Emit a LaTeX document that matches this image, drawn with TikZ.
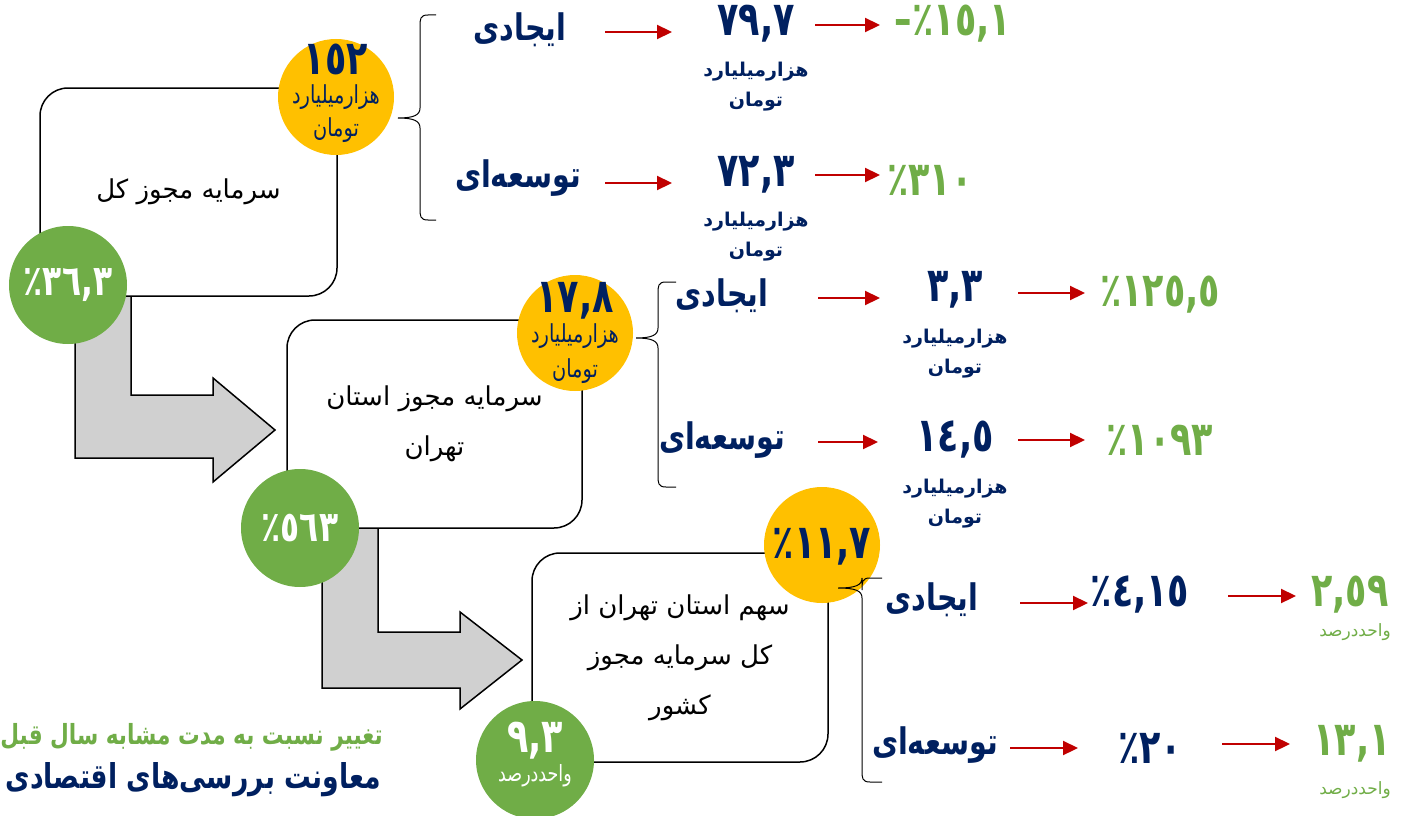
\documentclass[tikz,border=0pt]{standalone}
\usepackage{graphicx}
\usepackage{fontspec}
\setmainfont{DejaVu Sans}
\newfontfamily\arfont[Script=Arabic]{DejaVu Sans}
\newfontfamily\numfont{DejaVu Sans}
\TeXXeTstate=1
\usetikzlibrary{arrows.meta}
\definecolor{navy}{HTML}{002060}
\definecolor{lgreen}{HTML}{70AD47}
\definecolor{gold}{HTML}{FFC000}
\definecolor{darkred}{HTML}{C00000}
\definecolor{arrgray}{HTML}{D0D0D0}
\newcommand\fa[1]{{\arfont\beginR#1\endR}}
\newcommand\tfa[1]{\scalebox{0.92}[1.18]{\arfont\beginR#1\endR}}
\newcommand\tn[1]{\scalebox{0.92}[1.25]{#1}}
\newcommand\mybrace[6]{% xend, xvert, xtip, ytop, ybot, ytip
  \draw[line width=1pt] (#1,#4) -- ({#2+8},#4) .. controls (#2,#4) and (#2,{#4+4}) .. (#2,{#4+12})
    -- (#2,{#6-10}) .. controls (#2,{#6-3}) and ({#2-6},#6) .. (#3,#6)
    .. controls ({#2-6},#6) and (#2,{#6+3}) .. (#2,{#6+10})
    -- (#2,{#5-12}) .. controls (#2,{#5-4}) and (#2,#5) .. ({#2+8},#5) -- (#1,#5);}
\begin{document}
\begin{tikzpicture}[x=1pt,y=-1pt,
  box/.style={draw, line width=1.5pt, rounded corners=28pt, fill=white, align=center,
    font=\fontsize{26}{50}\selectfont, inner sep=0pt},
  ycirc/.style={circle, fill=gold, minimum size=116pt, inner sep=0pt},
  gcirc/.style={circle, fill=lgreen, minimum size=118pt, inner sep=0pt},
  cnum/.style={font=\fontsize{38}{40}\selectfont\bfseries\numfont, inner sep=0pt},
  csub/.style={font=\fontsize{21}{24}\selectfont, inner sep=0pt},
  lab/.style={text=navy, font=\fontsize{31}{36}\selectfont\bfseries, inner sep=0pt},
  val/.style={text=navy, font=\fontsize{38}{40}\selectfont\bfseries\numfont, inner sep=0pt},
  sub/.style={text=navy, font=\fontsize{19}{30}\selectfont\bfseries, align=center, inner sep=0pt},
  res/.style={text=lgreen, font=\fontsize{38}{40}\selectfont\bfseries\numfont, inner sep=0pt},
  unit/.style={text=lgreen, font=\fontsize{17}{20}\selectfont, inner sep=0pt},
  redarr/.style={draw=darkred, line width=2.2pt, -{Triangle[length=15pt,width=14pt]}},
  garrow/.style={draw, line width=1.5pt, fill=arrgray, line join=miter}
]
\useasboundingbox (0,0) rectangle (1403,816);

% gray bent arrows
\draw[garrow] (75,290) -- (131,290) -- (131,395) -- (213,395) -- (213,378) -- (275,430)
  -- (213,482) -- (213,458) -- (75,458) -- cycle;
\draw[garrow] (322,520) -- (378,520) -- (378,632) -- (460,632) -- (460,612) -- (522,660)
  -- (460,709) -- (460,688) -- (322,688) -- cycle;

% boxes
\node[box, minimum width=297pt, minimum height=208pt] (b1) at (188.5,192) {\fa{سرمایه مجوز کل}};
\node[box, minimum width=295pt, minimum height=208pt] (b2) at (434.5,424) {\fa{سرمایه مجوز استان}\\\fa{تهران}};
\node[box, minimum width=296pt, minimum height=209pt] (b3) at (680,657.5) {\fa{سهم استان تهران از}\\\fa{کل سرمایه مجوز}\\\fa{کشور}};

% circles
\node[ycirc] (y1) at (336,97) {};
\node[cnum, text=navy] (y1n) at (336,59) {\tn{١٥٢}};
\node[csub, text=navy] (y1a) at (336,97) {\tfa{هزارمیلیارد}};
\node[csub, text=navy] (y1b) at (336,130) {\tfa{تومان}};
\node[ycirc] (y2) at (575,333) {};
\node[cnum, text=navy] (y2n) at (575,301) {\tn{١٧,٨}};
\node[csub, text=navy] (y2a) at (575,336) {\tfa{هزارمیلیارد}};
\node[csub, text=navy] (y2b) at (575,371) {\tfa{تومان}};
\node[ycirc] (y3) at (822,545) {};
\node[cnum, text=navy] (y3n) at (822,547) {\tn{٪١١,٧}};
\node[gcirc] (c1) at (68,285) {};
\node[cnum, text=white, font=\fontsize{34}{36}\selectfont\bfseries\numfont] (c1n) at (68,285) {\tn{٪٣٦,٣}};
\node[gcirc] (c2) at (300,528) {};
\node[cnum, text=white, font=\fontsize{34}{36}\selectfont\bfseries\numfont] (c2n) at (300,528) {\tn{٪٥٦٣}};
\node[gcirc] (c3) at (535,760) {};
\node[cnum, text=white] (c3n) at (535,741) {\tn{٩,٣}};
\node[csub, text=white, font=\fontsize{19}{22}\selectfont] (c3a) at (535,776) {\tfa{واحددرصد}};

% braces
\mybrace{436}{420}{398}{15}{220}{118}
\mybrace{676}{658}{636}{282}{487}{338}
\mybrace{882}{862}{838}{578}{782}{588}

% row labels
\node[lab] (l1) at (520,30) {\tfa{ایجادی}};
\node[lab] (l2) at (518,178) {\tfa{توسعه‌ای}};
\node[lab] (l3) at (722,296) {\tfa{ایجادی}};
\node[lab] (l4) at (722,440) {\tfa{توسعه‌ای}};
\node[lab] (l5) at (932,600) {\tfa{ایجادی}};
\node[lab] (l6) at (935,745) {\tfa{توسعه‌ای}};

% values
\node[val] (v1) at (756,24) {\tn{٧٩,٧}};
\node[sub] (s1) at (756,87) {\fa{هزارمیلیارد}\\\fa{تومان}};
\node[val] (v2) at (756,175) {\tn{٧٢,٣}};
\node[sub] (s2) at (756,237) {\fa{هزارمیلیارد}\\\fa{تومان}};
\node[val] (v3) at (955,290) {\tn{٣,٣}};
\node[sub] (s3) at (955,354) {\fa{هزارمیلیارد}\\\fa{تومان}};
\node[val] (v4) at (955,440) {\tn{١٤,٥}};
\node[sub] (s4) at (955,504) {\fa{هزارمیلیارد}\\\fa{تومان}};
\node[val] (v5) at (1140,595) {\tn{٪٤,١٥}};
\node[val] (v6) at (1150,748) {\tn{٪٢٠}};

% results
\node[res] (g1) at (953,24) {\tn{–٪١٥,١}};
\node[res] (g2) at (930,180) {\tn{٪٣١٠}};
\node[res] (g3) at (1160,295) {\tn{٪١٢٥,٥}};
\node[res] (g4) at (1160,440) {\tn{٪١٠٩٣}};
\node[res] (g5) at (1350,595) {\tn{٢,٥٩}};
\node[unit] (u5) at (1355,632) {\fa{واحددرصد}};
\node[res] (g6) at (1352,744) {\tn{١٣,١}};
\node[unit] (u6) at (1355,790) {\fa{واحددرصد}};

% red arrows
\coordinate (a1s) at (605,32); \coordinate (a1e) at (672,32);
\coordinate (a2s) at (815,25); \coordinate (a2e) at (880,25);
\coordinate (a3s) at (605,183); \coordinate (a3e) at (672,183);
\coordinate (a4s) at (815,175); \coordinate (a4e) at (880,175);
\coordinate (a5s) at (818,298); \coordinate (a5e) at (880,298);
\coordinate (a6s) at (1018,293); \coordinate (a6e) at (1085,293);
\coordinate (a7s) at (818,442); \coordinate (a7e) at (878,442);
\coordinate (a8s) at (1018,440); \coordinate (a8e) at (1085,440);
\coordinate (a9s) at (1020,603); \coordinate (a9e) at (1088,603);
\coordinate (a10s) at (1228,596); \coordinate (a10e) at (1296,596);
\coordinate (a11s) at (1010,748); \coordinate (a11e) at (1078,748);
\coordinate (a12s) at (1222,744); \coordinate (a12e) at (1290,744);
\foreach \i in {1,...,12} { \draw[redarr] (a\i s) -- (a\i e); }

% footer
\node[anchor=east, text=lgreen, font=\fontsize{23.5}{26}\selectfont\bfseries, inner sep=0pt] (f1) at (383,737) {\tfa{تغییر نسبت به مدت مشابه سال قبل}};
\node[anchor=east, text=navy, font=\fontsize{29}{30}\selectfont\bfseries, inner sep=0pt] (f2) at (381,780) {\tfa{معاونت بررسی‌های اقتصادی}};
\end{tikzpicture}
\end{document}
